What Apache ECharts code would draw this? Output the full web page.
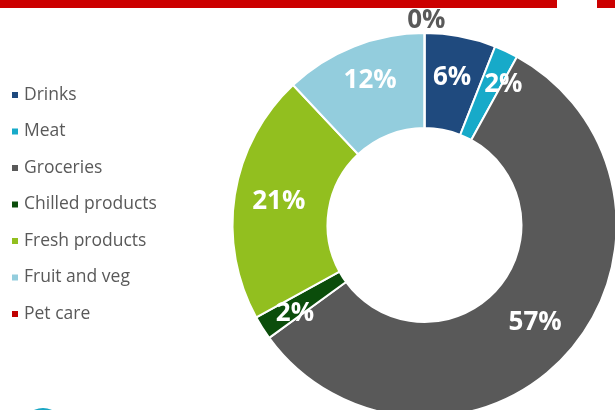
<!DOCTYPE html>
<html>
<head>
<meta charset="utf-8">
<script src="https://cdn.jsdelivr.net/npm/echarts@6/dist/echarts.min.js"></script>
<style>
html,body{margin:0;padding:0;background:#fff;}
#c{width:615px;height:410px;}
</style>
</head>
<body>
<div id="c"></div>
<script>
const categories = ['Drinks', 'Meat', 'Groceries', 'Chilled products', 'Fresh products', 'Fruit and veg', 'Pet care'];
const values = [6, 2, 57, 2, 21, 12, 0];
const colors = ['#1f4a7e', '#17aac9', '#595959', '#0b4d0b', '#92bf1f', '#93cddd', '#c00000'];

// label styling per slice (position tweaks only)
const labelOffsets = [[0, -3], [16, -7], [0, 0], [-5, 10], [0, 0], [0, -7], [0, 0]];

const chart = echarts.init(document.getElementById('c'), null, {renderer: 'canvas'});

const data = categories.map((name, i) => {
  const item = {
    name: name,
    value: values[i],
    itemStyle: {color: colors[i]},
    label: {offset: labelOffsets[i]}
  };
  if (values[i] === 0) {
    item.label = {
      position: 'outside',
      color: '#595959',
      offset: [26, -12]
    };
    item.labelLine = {show: false};
  }
  return item;
});

chart.setOption({
  animation: false,
  backgroundColor: '#ffffff',
  legend: {
    orient: 'vertical',
    left: 5,
    top: 81,
    itemWidth: 8,
    itemHeight: 8,
    itemGap: 18.5,
    icon: 'rect',
    data: categories,
    textStyle: {
      fontFamily: 'Open Sans',
      fontSize: 17.5,
      color: '#595959',
      lineHeight: 18,
      padding: [0, 0, 0, 0]
    }
  },
  graphic: [
    {type: 'rect', shape: {x: 0, y: 0, width: 557, height: 8}, style: {fill: '#cc0000'}},
    {type: 'rect', shape: {x: 597, y: 0, width: 18, height: 8}, style: {fill: '#cc0000'}},
    {type: 'circle', shape: {cx: 43, cy: 430, r: 22}, style: {fill: '#1aa6c4'}}
  ],
  series: [{
    type: 'pie',
    center: [424.5, 225],
    radius: [97, 192],
    startAngle: 90,
    clockwise: true,
    avoidLabelOverlap: false,
    minShowLabelAngle: 0,
    itemStyle: {borderColor: '#ffffff', borderWidth: 2},
    label: {
      show: true,
      position: 'inside',
      formatter: '{c}%',
      fontFamily: 'Open Sans',
      fontWeight: 'bold',
      fontSize: 26,
      color: '#ffffff'
    },
    labelLine: {show: false, length: 0, length2: 0},
    emphasis: {disabled: true},
    data: data
  }]
});
</script>
</body>
</html>
